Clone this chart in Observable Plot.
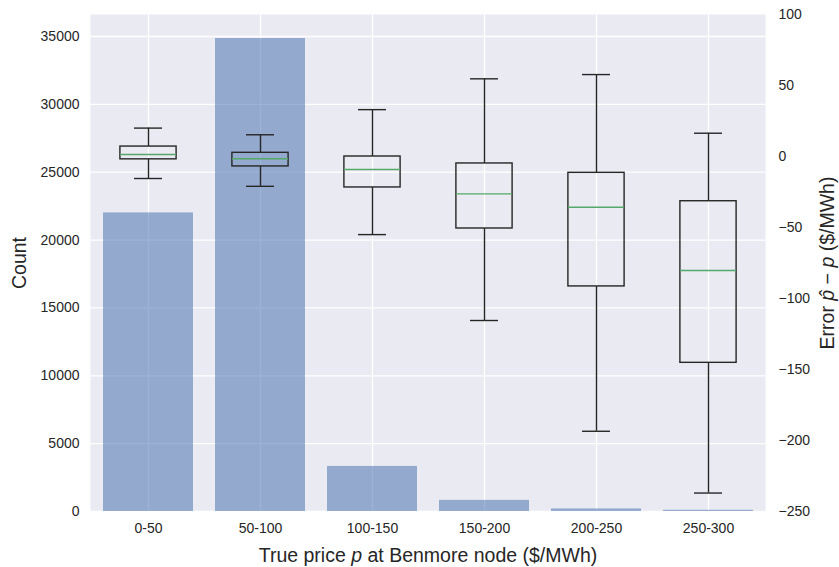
<!DOCTYPE html>
<html>
<head>
<meta charset="utf-8">
<script src="https://cdn.jsdelivr.net/npm/d3@7"></script>
<script src="https://cdn.jsdelivr.net/npm/@observablehq/plot@0.6"></script>
<style>
  html, body { margin: 0; padding: 0; background: white; }
  #wrap { position: relative; width: 839px; height: 567px; }
  #wrap > svg { position: absolute; left: 0; top: 0; }
</style>
</head>
<body>
<div id="wrap"></div>
<script>
// ---- data ----
const categories = ["0-50", "50-100", "100-150", "150-200", "200-250", "250-300"];
const counts = [22000, 34850, 3320, 820, 190, 90];
const whiskerLow  = [-15.5, -21, -55, -115.5, -193.5, -237];
const q1          = [-2, -7, -21.8, -50.7, -91.5, -145.3];
const median      = [1.4, -1.6, -9.2, -26.3, -35.7, -80.3];
const q3          = [7, 2.6, 0, -4.9, -11.5, -31.5];
const whiskerHigh = [20, 15.3, 33, 54.7, 57.7, 16.4];
const countTicks = [0, 5000, 10000, 15000, 20000, 25000, 30000, 35000];
const errorTicks = [-250, -200, -150, -100, -50, 0, 50, 100];

const bars = categories.map((c, i) => ({cat: c, count: counts[i]}));
const stats = categories.map((c, i) => ({
  cat: c, lo: whiskerLow[i], q1: q1[i], med: median[i], q3: q3[i], hi: whiskerHigh[i]
}));

const W = 839, H = 567;
const margins = {marginLeft: 90, marginRight: 74, marginTop: 14, marginBottom: 56};
const font = {fontFamily: "'Liberation Sans', Arial, sans-serif", fontSize: "14px", color: "#262626"};
const xScale = {type: "band", domain: categories, paddingInner: 0.2, paddingOuter: 0.1};

const p1 = Plot.plot({
  width: W, height: H, ...margins,
  style: {...font, background: "white", overflow: "visible"},
  x: xScale,
  y: {domain: [0, 36620]},
  marks: [
    Plot.frame({fill: "#EAEAF2", stroke: null}),
    Plot.gridY(countTicks, {stroke: "white", strokeOpacity: 1, strokeWidth: 1.3}),
    Plot.gridX({stroke: "white", strokeOpacity: 1, strokeWidth: 1.3}),
    Plot.barY(bars, {x: "cat", y: "count", fill: "#4C72B0", fillOpacity: 0.55}),
    Plot.axisY(countTicks, {tickSize: 0, tickPadding: 11, tickFormat: d => String(d), label: null, fontSize: 14}),
    Plot.axisX({tickSize: 0, tickPadding: 12, label: null, fontSize: 14}),
    Plot.text(["Count"], {frameAnchor: "left", rotate: -90, dx: -71, textAnchor: "middle", lineAnchor: "middle", fontSize: 19.5, fill: "#262626"}),
    Plot.text(["True price p at Benmore node ($/MWh)"], {frameAnchor: "bottom", dy: 44.5, textAnchor: "middle", lineAnchor: "middle", fontSize: 19.5, fill: "#262626", className: "xlab"})
  ]
});

const p2 = Plot.plot({
  width: W, height: H, ...margins,
  style: {...font, background: "transparent", overflow: "visible"},
  x: {...xScale, axis: null},
  y: {domain: [-250, 100], axis: null},
  marks: [
    Plot.ruleX(stats, {x: "cat", y1: "lo", y2: "q1", stroke: "#262626", strokeWidth: 1.4}),
    Plot.ruleX(stats, {x: "cat", y1: "q3", y2: "hi", stroke: "#262626", strokeWidth: 1.4}),
    Plot.tickY(stats, {x: "cat", y: "lo", stroke: "#262626", strokeWidth: 1.4, insetLeft: 31, insetRight: 31}),
    Plot.tickY(stats, {x: "cat", y: "hi", stroke: "#262626", strokeWidth: 1.4, insetLeft: 31, insetRight: 31}),
    Plot.barY(stats, {x: "cat", y1: "q1", y2: "q3", fill: "none", stroke: "#262626", strokeWidth: 1.4, insetLeft: 16.9, insetRight: 16.9}),
    Plot.tickY(stats, {x: "cat", y: "med", stroke: "#55A868", strokeWidth: 1.4, insetLeft: 16.9, insetRight: 16.9}),
    Plot.axisY(errorTicks, {anchor: "right", tickSize: 0, tickPadding: 13, label: null, fontSize: 14}),
    Plot.text(["Error p̂ − p ($/MWh)"], {frameAnchor: "right", rotate: -90, dx: 62, textAnchor: "middle", lineAnchor: "middle", fontSize: 19.5, fill: "#262626", className: "ylab2"})
  ]
});

const wrap = document.getElementById("wrap");
wrap.appendChild(p1);
wrap.appendChild(p2);

// italic math symbols as tspans
d3.select(p1).selectAll(".xlab text").each(function() {
  const t = d3.select(this);
  t.text(null);
  t.append("tspan").text("True price ");
  t.append("tspan").attr("font-style", "italic").text("p");
  t.append("tspan").text(" at Benmore node ($/MWh)");
});
d3.select(p2).selectAll(".ylab2 text").each(function() {
  const t = d3.select(this);
  t.text(null);
  t.append("tspan").text("Error ");
  t.append("tspan").attr("font-style", "italic").text("p̂");
  t.append("tspan").text(" − ");
  t.append("tspan").attr("font-style", "italic").text("p");
  t.append("tspan").text(" ($/MWh)");
});
</script>
</body>
</html>
